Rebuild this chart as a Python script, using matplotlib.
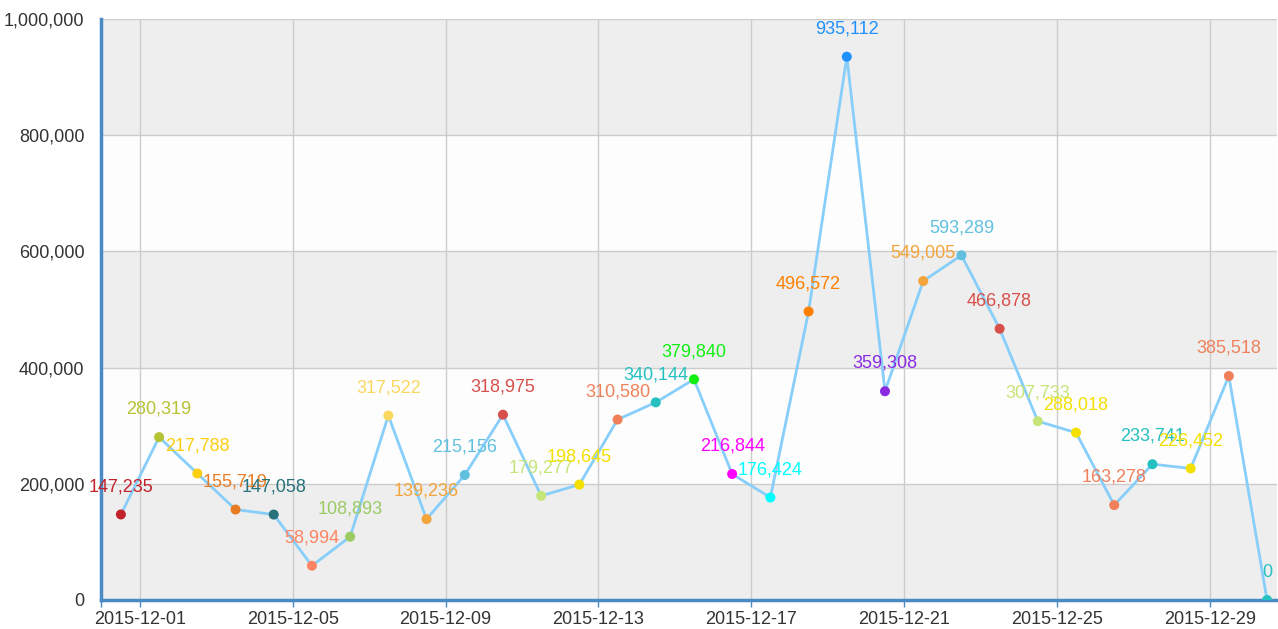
import pandas as pd
import matplotlib
matplotlib.use("Agg")
import matplotlib.pyplot as plt
import matplotlib.dates as mdates
from matplotlib.ticker import FuncFormatter

plt.rcParams['font.family'] = ['Liberation Sans', 'DejaVu Sans']

# daily values, 2015-11-30 .. 2015-12-30 (plotted at midday)
dates = pd.date_range("2015-11-30 12:00", periods=31, freq="D")
values = [147235, 280319, 217788, 155719, 147058, 58994, 108893, 317522,
          139236, 215156, 318975, 179277, 198645, 310580, 340144, 379840,
          216844, 176424, 496572, 935112, 359308, 549005, 593289, 466878,
          307733, 288018, 163278, 233741, 226452, 385518, 0]
point_colors = ['#c1232b', '#b5c334', '#fcce10', '#e87c25', '#27727b', '#fe8463',
                '#9bca63', '#fad860', '#f3a43b', '#60c0dd', '#d7504b', '#c6e579',
                '#f4e001', '#f0805a', '#26c0c0', '#11ee11', '#ff00ff', '#00ffff',
                '#ff8000', '#1e90ff', '#8a2be2', '#f3a43b', '#60c0dd', '#d7504b',
                '#c6e579', '#f4e001', '#f0805a', '#26c0c0', '#f4e001', '#f0805a',
                '#26c0c0']
x_ticks = pd.date_range("2015-12-01", "2015-12-29", freq="4D")
y_ticks = [0, 200000, 400000, 600000, 800000, 1000000]

x_start = pd.Timestamp("2015-11-29 23:30")
x_end = pd.Timestamp("2015-12-30 18:15")

fig = plt.figure(figsize=(12.78, 6.29), dpi=100)
ax = fig.add_axes([101 / 1278, 1 - 600 / 629, 1176 / 1278, 581 / 629])

# alternating horizontal bands
for i in range(len(y_ticks) - 1):
    c = '#eeeeee' if i % 2 == 0 else '#fdfdfd'
    ax.axhspan(y_ticks[i], y_ticks[i + 1], color=c, zorder=0, lw=0)

ax.plot(dates, values, color='#87cefa', lw=2, zorder=2)
ax.scatter(dates, values, c=point_colors, s=52, zorder=3, linewidths=0)
for d, v, c in zip(dates, values, point_colors):
    ax.annotate(f"{v:,}", (d, v), xytext=(0, 20), textcoords='offset points',
                ha='center', va='center', color=c, fontsize=13, zorder=4)

ax.set_ylim(0, 1000000)
ax.set_xlim(x_start, x_end)
ax.set_yticks(y_ticks)
ax.yaxis.set_major_formatter(FuncFormatter(lambda v, p: f"{int(v):,}"))
ax.set_xticks(x_ticks)
ax.set_xticks([x_start], minor=True)
ax.xaxis.set_major_formatter(mdates.DateFormatter("%Y-%m-%d"))

ax.grid(True, color='#cccccc', lw=1, zorder=1)
ax.set_axisbelow(True)
for s in ['top', 'right']:
    ax.spines[s].set_visible(False)
for s in ['left', 'bottom']:
    ax.spines[s].set_color('#4a8ac4')
    ax.spines[s].set_linewidth(2.5)
ax.tick_params(axis='y', length=0, pad=12, labelsize=13, labelcolor='#333333')
ax.tick_params(axis='x', which='both', length=5, width=1, color='#4a8ac4', pad=3,
               labelsize=13, labelcolor='#333333')

fig.savefig("out.png", dpi=100)
